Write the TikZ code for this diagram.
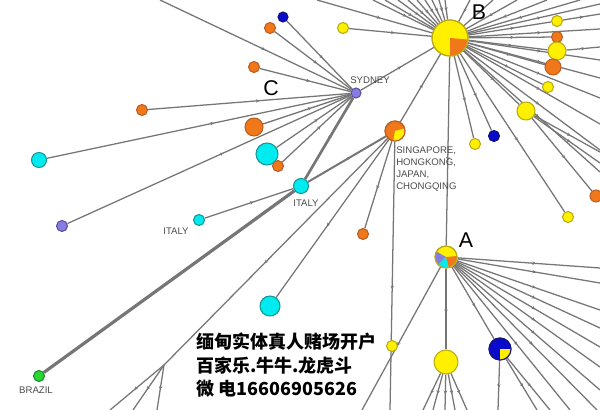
\documentclass[tikz,border=0pt]{standalone}
\usepackage{fontspec}
\setmainfont{Liberation Sans}
\newfontfamily\cjk{Noto Sans CJK SC}
\usetikzlibrary{decorations.markings,arrows.meta}
\pgfdeclarelayer{bg}
\pgfsetlayers{bg,main}
\definecolor{eg}{RGB}{118,118,118}
\definecolor{yel}{RGB}{255,240,0}
\definecolor{yelb}{RGB}{185,170,20}
\definecolor{org}{RGB}{240,120,25}
\definecolor{orgb}{RGB}{185,95,40}
\definecolor{cya}{RGB}{0,235,240}
\definecolor{cyab}{RGB}{20,150,150}
\definecolor{blu}{RGB}{10,10,205}
\definecolor{blub}{RGB}{20,20,120}
\definecolor{pur}{RGB}{135,125,225}
\definecolor{purb}{RGB}{90,80,160}
\definecolor{grn}{RGB}{40,215,50}
\definecolor{grnb}{RGB}{30,140,40}
\definecolor{lab}{RGB}{75,75,75}
\tikzset{
  nd/.style={circle, inner sep=0pt, line width=0.8pt},
  s/.style={minimum size=#1*0.75pt},
  ye/.style={nd, fill=yel, draw=yelb},
  orn/.style={nd, fill=org, draw=orgb},
  cy/.style={nd, fill=cya, draw=cyab},
  bln/.style={nd, fill=blu, draw=blub},
  pu/.style={nd, fill=pur, draw=purb},
  gn/.style={nd, fill=grn, draw=grnb},
  edge/.style={draw=eg, line width=0.95pt, postaction={decorate},
    decoration={markings, mark=at position 0.55 with {\arrow{Stealth[length=2.6pt,width=2.6pt]}}}},
  thk/.style={edge, line width=#1},
  big/.style={inner sep=0pt, font=\fontsize{16}{16}\selectfont},
  sm/.style={inner sep=0pt, text=lab, font=\fontsize{7.2}{9}\selectfont},
  cn/.style={inner sep=0pt, anchor=west, font=\cjk\bfseries\fontsize{13.5}{13.5}\selectfont}
}
\begin{document}
\begin{tikzpicture}[x=0.75pt,y=-0.75pt]
\useasboundingbox (0,0) rectangle (600,410);
\begin{pgfonlayer}{bg}
\fill[white] (0,0) rectangle (600,410);
\end{pgfonlayer}
% ---- nodes ----
\node[ye, s=36] (B) at (450,38) {};
\node[pu, s=10] (syd) at (356,93) {};
\node[orn, s=20] (sing) at (395,131) {};
\node[cy, s=15] (ita1) at (301,186) {};
\node[cy, s=11] (ita2) at (199,220) {};
\node[pu, s=11] (pur2) at (62,226) {};
\node[cy, s=15] (cy1) at (39,160) {};
\node[cy, s=22] (cy2) at (267,154) {};
\node[orn, s=18] (or1) at (254,127) {};
\node[orn, s=11] (or2) at (278,166) {};
\node[orn, s=11] (or3) at (142,110) {};
\node[orn, s=11] (or4) at (254,67) {};
\node[orn, s=11] (or5) at (270,28) {};
\node[bln, s=10] (bl1) at (283,17) {};
\node[ye, s=11] (ye1) at (343,28) {};
\node[ye, s=22] (A) at (446,257) {};
\node[orn, s=11] (or6) at (363,234) {};
\node[ye, s=11] (ye2) at (568,217) {};
\node[ye, s=11] (ye3) at (392,346) {};
\node[ye, s=24] (ye4) at (446,362) {};
\node[bln, s=22] (bl2) at (500,349) {};
\node[cy, s=20] (cy3) at (270,306) {};
\node[gn, s=11] (gr) at (39,376) {};
\node[ye, s=11] (ye5) at (557,21) {};
\node[orn, s=11] (or7) at (557,37) {};
\node[ye, s=18] (ye6) at (557,51) {};
\node[orn, s=16] (or8) at (553,67) {};
\node[ye, s=11] (ye7) at (548,87) {};
\node[ye, s=18] (ye8) at (526,111) {};
\node[bln, s=11] (bl3) at (494,136) {};
\node[ye, s=11] (ye9) at (475,144) {};
\node[orn, s=12] (or9) at (596,196) {};
% ---- pie slices ----
\fill[org] (B.center) -- ++(-90:13.5pt) arc[start angle=-90, end angle=-5, radius=13.5pt] -- cycle;
\draw[yelb, line width=0.8pt] (B.center) circle[radius=13.5pt];
\fill[yel] (sing.center) -- ++(-100:7.5pt) arc[start angle=-100, end angle=15, radius=7.5pt] -- cycle;
\draw[orgb, line width=0.8pt] (sing.center) circle[radius=7.5pt];
\fill[pur] (A.center) -- ++(150:8.25pt) arc[start angle=150, end angle=225, radius=8.25pt] -- cycle;
\fill[cya] (A.center) -- ++(225:8.25pt) arc[start angle=225, end angle=285, radius=8.25pt] -- cycle;
\fill[org] (A.center) -- ++(285:8.25pt) arc[start angle=285, end angle=365, radius=8.25pt] -- cycle;
\draw[yelb, line width=0.8pt] (A.center) circle[radius=8.25pt];
\fill[yel] (bl2.center) -- ++(-90:8.25pt) arc[start angle=-90, end angle=0, radius=8.25pt] -- cycle;
\draw[blub, line width=0.8pt] (bl2.center) circle[radius=8.25pt];
% ---- labels ----
\node[big] (lB) at (479,12) {B};
\node[big] (lA) at (466,240) {A};
\node[big] (lC) at (271,88) {C};
\node[sm] (lsyd) at (370,80) {SYDNEY};
\node[sm] (lit1) at (306,203) {ITALY};
\node[sm] (lit2) at (176,231) {ITALY};
\node[sm] (lbr) at (36,390) {BRAZIL};
\node[sm, anchor=north west, align=left] (lsing) at (396,147) {SINGAPORE,\\HONGKONG,\\JAPAN,\\CHONGQING};
\node[cn] (t1) at (196,342) {缅甸实体真人赌场开户};
\node[cn] (t2) at (196,366) {百家乐.牛牛.龙虎斗};
\node[cn] (t3) at (196,389) {微 电16606905626};
% ---- edges ----
\begin{pgfonlayer}{bg}
\coordinate (tl) at (160,0);
\draw[edge] (tl) -- (syd);
\foreach \n in {bl1,or5,or4,or3,cy1,or1,cy2,or2,pur2} \draw[edge] (\n) -- (syd);
\draw[edge] (syd) -- (B);
\draw[thk=2pt] (ita1) -- (syd);
\draw[thk=2.4pt] (gr) -- (ita1);
\draw[thk=1.5pt] (ita1) -- (sing);
\draw[edge] (ita2) -- (ita1);
\draw[edge] (ye1) -- (B);
\draw[edge] (sing) -- (B);
\coordinate (br) at (164,365);
\draw[edge] (sing) -- (br);
\foreach \x [count=\i] in {110,133,157} {\coordinate (bb\i) at (\x,410); \draw[edge] (br) -- (bb\i);}
\draw[edge] (sing) -- (cy3);
\draw[edge] (sing) -- (or6);
\coordinate (sv) at (390,410);
\draw[edge] (sing) -- (sv);
\foreach \x [count=\i] in {317,373,385,398,408,417,425,432,439,445,470,493,517,547,580} {\coordinate (bt\i) at (\x,0); \draw[edge] (bt\i) -- (B);}
\foreach \y [count=\i] in {4,29,60,78,98,124,150,172} {\coordinate (br\i) at (600,\y); \draw[edge] (B) -- (br\i);}
\foreach \n in {ye5,or7,ye6,or8,ye7,ye8,bl3,ye9,ye2} \draw[edge] (B) -- (\n);
\coordinate (r5) at (600,14); \draw[edge] (ye5) -- (r5);
\coordinate (r6) at (600,47); \draw[edge] (ye6) -- (r6);
\coordinate (r8a) at (600,152); \draw[edge] (ye8) -- (r8a);
\coordinate (r8b) at (600,163); \draw[edge] (ye8) -- (r8b);
\draw[edge] (ye8) -- (or9);
\draw[edge] (B) -- (A);
\draw[edge] (A) -- (ye4);
\coordinate (al) at (362,410);
\draw[edge] (A) -- (al);
\draw[edge] (A) -- (bl2);
\foreach \y [count=\i] in {268,283,310,328,347,367,390} {\coordinate (ar\i) at (600,\y); \draw[edge] (A) -- (ar\i);}
\foreach \x [count=\i] in {570,597} {\coordinate (ab\i) at (\x,410); \draw[edge] (A) -- (ab\i);}
\foreach \x [count=\i] in {423,433,445,455,467} {\coordinate (yb\i) at (\x,410); \draw[edge] (ye4) -- (yb\i);}
\coordinate (bv) at (498,410); \draw[edge] (bl2) -- (bv);
\foreach \x [count=\i] in {537,550} {\coordinate (bbx\i) at (\x,410); \draw[edge] (bl2) -- (bbx\i);}
\end{pgfonlayer}
\end{tikzpicture}
\end{document}
